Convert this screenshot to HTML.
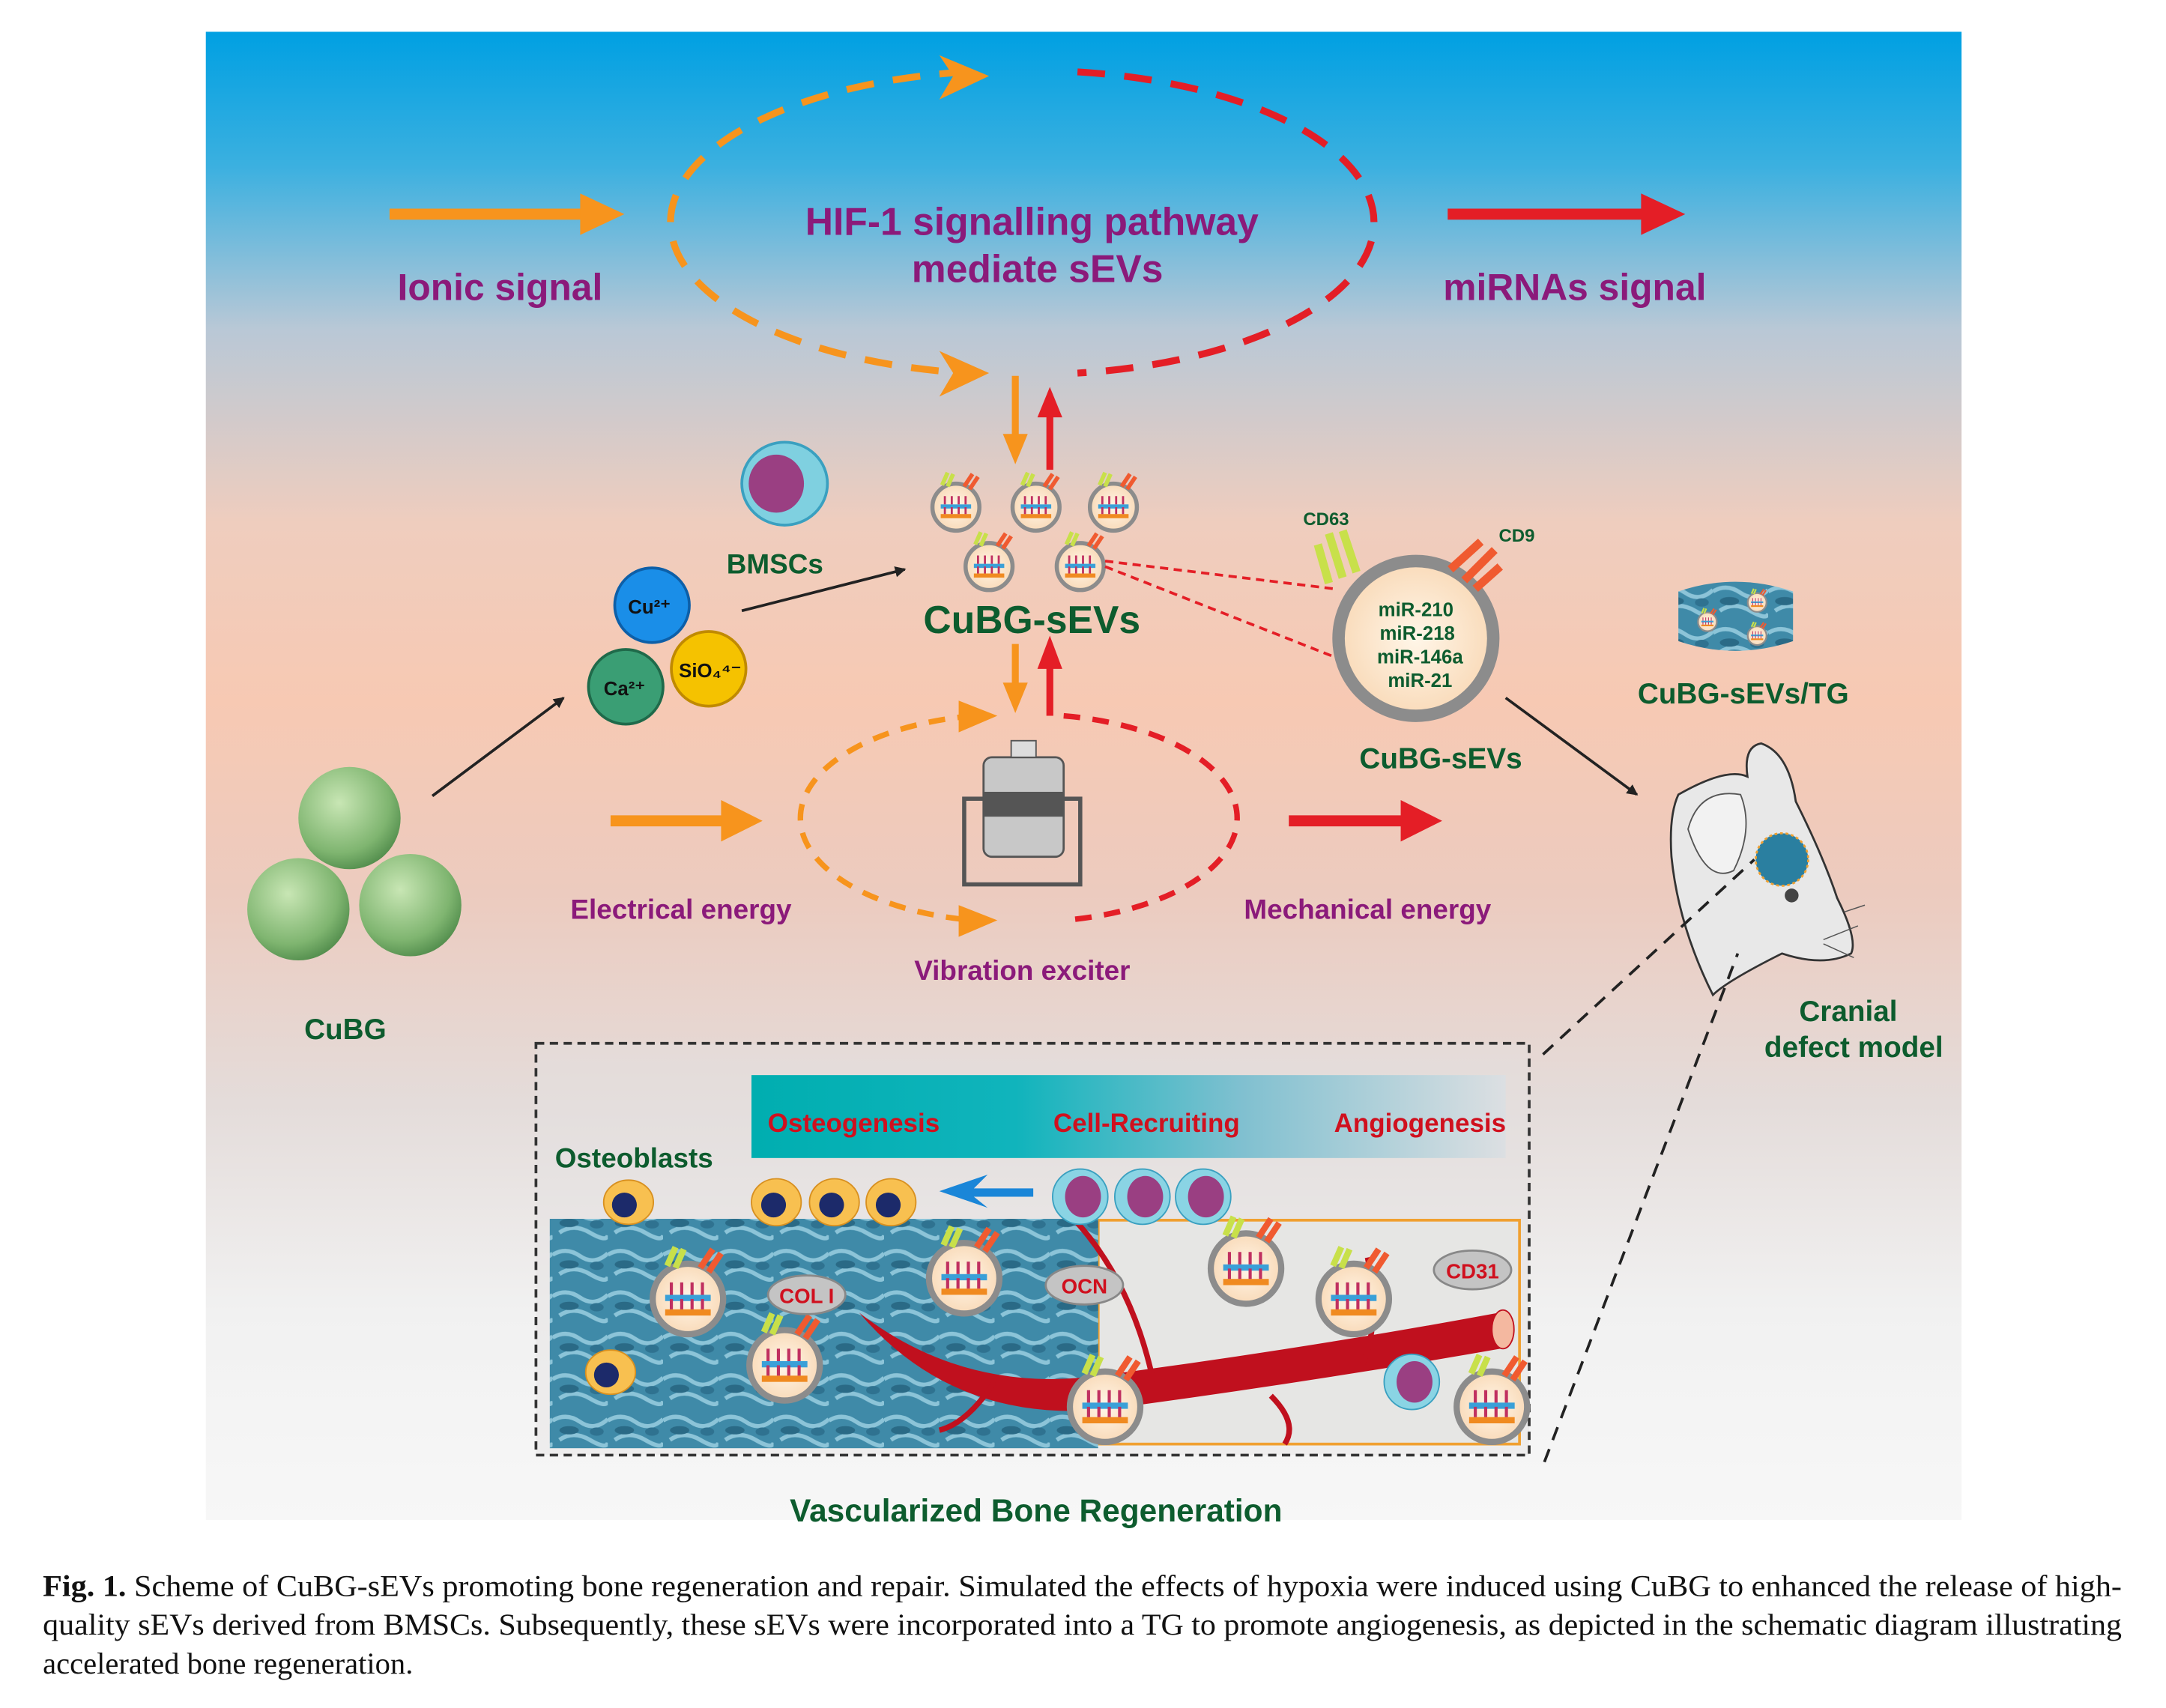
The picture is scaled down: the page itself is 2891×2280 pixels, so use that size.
<!DOCTYPE html>
<html><head><meta charset="utf-8"><style>
html,body{margin:0;padding:0;background:#fff;}
svg{display:block;}
.t{font-family:"Liberation Sans",sans-serif;font-weight:bold;}
</style></head><body>
<svg width="2891" height="2280" viewBox="0 0 1568 1236" preserveAspectRatio="none" xmlns="http://www.w3.org/2000/svg">
<defs>
<linearGradient id="bg" x1="0" y1="0" x2="0" y2="1">
<stop offset="0" stop-color="#00a0e2"/>
<stop offset="0.09" stop-color="#3bb0e0"/>
<stop offset="0.2" stop-color="#b9c8d6"/>
<stop offset="0.33" stop-color="#efcdbe"/>
<stop offset="0.45" stop-color="#f7c9b3"/>
<stop offset="0.58" stop-color="#eccbbf"/>
<stop offset="0.72" stop-color="#e4dcda"/>
<stop offset="0.86" stop-color="#f1f1f1"/>
<stop offset="1" stop-color="#f7f7f7"/>
</linearGradient>
<linearGradient id="bar" x1="0" y1="0" x2="1" y2="0">
<stop offset="0" stop-color="#00aeb0"/>
<stop offset="0.35" stop-color="#10b4bc"/>
<stop offset="0.65" stop-color="#80c0d0"/>
<stop offset="1" stop-color="#dcdfe2"/>
</linearGradient>
<radialGradient id="green" cx="0.4" cy="0.35" r="0.7">
<stop offset="0" stop-color="#c8e6b4"/><stop offset="0.7" stop-color="#7fb570"/><stop offset="1" stop-color="#4f8a4a"/>
</radialGradient>
<radialGradient id="cream" cx="0.5" cy="0.5" r="0.6">
<stop offset="0" stop-color="#fff6e8"/><stop offset="1" stop-color="#f8d5b0"/>
</radialGradient>
<pattern id="bone" width="40" height="30" patternUnits="userSpaceOnUse">
<rect width="40" height="30" fill="#3f8aa8"/>
<path d="M0 8 Q10 2 20 9 T40 7 M5 22 Q15 15 27 22 T40 24" stroke="#8cc4d8" stroke-width="3" fill="none"/>
<ellipse cx="12" cy="15" rx="7" ry="3" fill="#2a6a86"/>
<ellipse cx="32" cy="16" rx="5" ry="3" fill="#2f7290"/>
</pattern>
<marker id="ak" markerWidth="8" markerHeight="8" refX="7" refY="4" orient="auto" markerUnits="userSpaceOnUse"><path d="M0,0 L8,4 L0,8 Z" fill="#222"/></marker>
<g id="sev">
<circle r="17" fill="url(#cream)" stroke="#8c8c8c" stroke-width="3"/>
<rect x="-11" y="-2" width="22" height="3" fill="#3aa0d8"/>
<rect x="-11" y="5" width="22" height="3" fill="#f08a20"/>
<path d="M-8 -2v-6M-3 -2v-6M2 -2v-6M7 -2v-6M-8 5v-5M-3 5v-5M2 5v-5M7 5v-5" stroke="#c03060" stroke-width="1.5"/>
<path d="M-10 -16 l4 -9 M-6 -15 l4 -9" stroke="#c8e04a" stroke-width="3"/>
<path d="M6 -15 l6 -9 M10 -13 l6 -9" stroke="#f05a30" stroke-width="3"/>
</g>
</defs>

<rect x="149" y="23" width="1271" height="1077" fill="url(#bg)"/>

<path d="M700 52 A248 110 0 0 0 700 270" fill="none" stroke="#f7941d" stroke-width="5" stroke-dasharray="20 14"/>
<path d="M780 52 A248 110 0 0 1 780 270" fill="none" stroke="#e41e26" stroke-width="5" stroke-dasharray="20 14"/>
<path d="M680 40 L716 55 L680 72 L690 55Z" fill="#f7941d"/>
<path d="M680 254 L716 270 L680 287 L690 270Z" fill="#f7941d"/>
<text class="t" x="747" y="170" font-size="28" fill="#8b1a7a" text-anchor="middle">HIF-1 signalling pathway</text>
<text class="t" x="751" y="204" font-size="28" fill="#8b1a7a" text-anchor="middle">mediate sEVs</text>
<line x1="282" y1="155" x2="428" y2="155" stroke="#f7941d" stroke-width="8"/>
<path d="M420 140 L452 155 L420 170Z" fill="#f7941d"/>
<line x1="1048" y1="155" x2="1196" y2="155" stroke="#e41e26" stroke-width="8"/>
<path d="M1188 140 L1220 155 L1188 170Z" fill="#e41e26"/>
<text class="t" x="362" y="217" font-size="27" fill="#8b1a7a" text-anchor="middle">Ionic signal</text>
<text class="t" x="1140" y="217" font-size="27" fill="#8b1a7a" text-anchor="middle">miRNAs signal</text>

<line x1="735" y1="272" x2="735" y2="318" stroke="#f7941d" stroke-width="5"/><path d="M726 314 L735 336 L744 314Z" fill="#f7941d"/>
<line x1="760" y1="340" x2="760" y2="298" stroke="#e41e26" stroke-width="5"/><path d="M751 302 L760 280 L769 302Z" fill="#e41e26"/>
<line x1="735" y1="466" x2="735" y2="498" stroke="#f7941d" stroke-width="5"/><path d="M726 494 L735 516 L744 494Z" fill="#f7941d"/>
<line x1="760" y1="518" x2="760" y2="480" stroke="#e41e26" stroke-width="5"/><path d="M751 484 L760 460 L769 484Z" fill="#e41e26"/>

<use href="#sev" x="692" y="367"/><use href="#sev" x="750" y="367"/><use href="#sev" x="806" y="367"/>
<use href="#sev" x="716" y="410"/><use href="#sev" x="782" y="410"/>
<text class="t" x="747" y="458" font-size="28" fill="#0d5c2e" text-anchor="middle">CuBG-sEVs</text>

<ellipse cx="568" cy="350" rx="31" ry="30" fill="#7fd0e0" stroke="#3aa0c0" stroke-width="2"/>
<ellipse cx="562" cy="350" rx="20" ry="21" fill="#9a3f82"/>
<text class="t" x="561" y="415" font-size="20" fill="#0d5c2e" text-anchor="middle">BMSCs</text>
<line x1="537" y1="442" x2="655" y2="412" stroke="#222" stroke-width="2" marker-end="url(#ak)"/>

<circle cx="472" cy="438" r="27" fill="#1a8ee8" stroke="#0d5fa8" stroke-width="2"/>
<circle cx="453" cy="497" r="27" fill="#3a9e74" stroke="#1f6a4a" stroke-width="2"/>
<circle cx="513" cy="484" r="27" fill="#f5c200" stroke="#c08a00" stroke-width="2"/>
<text class="t" x="470" y="444" font-size="14" fill="#111" text-anchor="middle">Cu²⁺</text>
<text class="t" x="452" y="503" font-size="14" fill="#111" text-anchor="middle">Ca²⁺</text>
<text class="t" x="514" y="490" font-size="14" fill="#111" text-anchor="middle">SiO₄⁴⁻</text>
<line x1="313" y1="576" x2="408" y2="505" stroke="#222" stroke-width="2" marker-end="url(#ak)"/>

<circle cx="253" cy="592" r="37" fill="url(#green)"/>
<circle cx="216" cy="658" r="37" fill="url(#green)"/>
<circle cx="297" cy="655" r="37" fill="url(#green)"/>
<text class="t" x="250" y="752" font-size="21" fill="#0d5c2e" text-anchor="middle">CuBG</text>

<line x1="800" y1="406" x2="965" y2="426" stroke="#e41e26" stroke-width="2" stroke-dasharray="6 4"/>
<line x1="800" y1="410" x2="965" y2="475" stroke="#e41e26" stroke-width="2" stroke-dasharray="6 4"/>
<circle cx="1025" cy="462" r="56" fill="url(#cream)" stroke="#8c8c8c" stroke-width="9"/>
<path d="M962 422 l-8 -28 M972 418 l-10 -32 M982 414 l-10 -30" stroke="#c8e04a" stroke-width="6"/>
<path d="M1050 412 l22 -20 M1060 420 l22 -22 M1068 426 l18 -16" stroke="#f05a30" stroke-width="6"/>
<text class="t" x="960" y="380" font-size="13" fill="#0d5c2e" text-anchor="middle">CD63</text>
<text class="t" x="1098" y="392" font-size="13" fill="#0d5c2e" text-anchor="middle">CD9</text>
<g class="t" font-size="14" fill="#0d5c2e" text-anchor="middle">
<text x="1025" y="446">miR-210</text><text x="1026" y="463">miR-218</text><text x="1028" y="480">miR-146a</text><text x="1028" y="497">miR-21</text>
</g>
<text class="t" x="1043" y="556" font-size="21" fill="#0d5c2e" text-anchor="middle">CuBG-sEVs</text>
<line x1="1090" y1="505" x2="1185" y2="575" stroke="#222" stroke-width="2" marker-end="url(#ak)"/>

<path d="M1215 428 Q1256 414 1298 428 L1298 464 Q1256 478 1215 464Z" fill="url(#bone)"/>
<use href="#sev" x="1236" y="450" transform="translate(1236 450) scale(0.4) translate(-1236 -450)"/>
<use href="#sev" x="1272" y="436" transform="translate(1272 436) scale(0.4) translate(-1272 -436)"/>
<use href="#sev" x="1272" y="460" transform="translate(1272 460) scale(0.4) translate(-1272 -460)"/>
<text class="t" x="1262" y="509" font-size="21" fill="#0d5c2e" text-anchor="middle">CuBG-sEVs/TG</text>

<path d="M1215 575 Q1250 555 1265 562 Q1262 540 1275 538 Q1295 545 1300 580 Q1320 620 1330 650 Q1345 680 1340 690 Q1320 700 1290 690 Q1250 710 1240 720 Q1215 670 1210 620 Q1208 590 1215 575Z" fill="#e8e8e8" stroke="#333" stroke-width="1.5"/>
<path d="M1222 600 Q1230 570 1260 575 Q1270 600 1255 630 Q1235 640 1222 600Z" fill="#f2f2f2" stroke="#555" stroke-width="1"/>
<circle cx="1290" cy="622" r="19" fill="#2a7fa0" stroke="#f0a030" stroke-width="1.5" stroke-dasharray="2 2"/>
<circle cx="1297" cy="648" r="5" fill="#444"/>
<path d="M1320 680 l25 -10 M1320 683 l22 10 M1335 660 l15 -5" stroke="#555" stroke-width="0.8"/>
<text class="t" x="1338" y="739" font-size="21" fill="#0d5c2e" text-anchor="middle">Cranial</text>
<text class="t" x="1342" y="765" font-size="21" fill="#0d5c2e" text-anchor="middle">defect model</text>

<path d="M705 518 A150 75 0 0 0 705 666" fill="none" stroke="#f7941d" stroke-width="4" stroke-dasharray="12 9"/>
<path d="M770 518 A150 75 0 0 1 770 666" fill="none" stroke="#e41e26" stroke-width="4" stroke-dasharray="12 9"/>
<path d="M694 507 L722 518 L694 530Z" fill="#f7941d"/>
<path d="M694 655 L722 666 L694 678Z" fill="#f7941d"/>
<rect x="698" y="578" width="84" height="62" fill="none" stroke="#555" stroke-width="3"/>
<rect x="712" y="548" width="58" height="72" rx="6" fill="#c8c8c8" stroke="#555" stroke-width="1.5"/>
<rect x="712" y="573" width="58" height="18" fill="#555"/>
<rect x="732" y="536" width="18" height="12" fill="#ddd" stroke="#555"/>
<line x1="442" y1="594" x2="528" y2="594" stroke="#f7941d" stroke-width="8"/><path d="M522 579 L552 594 L522 609Z" fill="#f7941d"/>
<line x1="933" y1="594" x2="1020" y2="594" stroke="#e41e26" stroke-width="8"/><path d="M1014 579 L1044 594 L1014 609Z" fill="#e41e26"/>
<text class="t" x="493" y="665" font-size="20" fill="#8b1a7a" text-anchor="middle">Electrical energy</text>
<text class="t" x="990" y="665" font-size="20" fill="#8b1a7a" text-anchor="middle">Mechanical energy</text>
<text class="t" x="740" y="709" font-size="20" fill="#8b1a7a" text-anchor="middle">Vibration exciter</text>

<line x1="1117" y1="763" x2="1270" y2="622" stroke="#222" stroke-width="2" stroke-dasharray="10 7"/>
<line x1="1118" y1="1058" x2="1258" y2="690" stroke="#222" stroke-width="2" stroke-dasharray="10 7"/>

<rect x="388" y="755" width="719" height="298" fill="#e4e2e2" fill-opacity="0.4" stroke="#333" stroke-width="2" stroke-dasharray="6 4"/>
<rect x="544" y="778" width="546" height="60" fill="url(#bar)"/>
<g class="t" font-size="19" fill="#d0101e" text-anchor="middle">
<text x="618" y="819">Osteogenesis</text><text x="830" y="819">Cell-Recruiting</text><text x="1028" y="819">Angiogenesis</text>
</g>
<text class="t" x="459" y="845" font-size="20" fill="#0d5c2e" text-anchor="middle">Osteoblasts</text>
<rect x="795" y="883" width="305" height="162" fill="#e6e6e4" stroke="#f0a030" stroke-width="2"/>
<rect x="398" y="882" width="397" height="166" fill="url(#bone)"/>
<path d="M622 950 Q700 1010 800 995 Q950 975 1085 950 L1092 975 Q950 1000 800 1020 Q690 1030 622 950Z" fill="#c0101e"/>
<ellipse cx="1088" cy="962" rx="8" ry="14" fill="#f4b8a0" stroke="#c0101e"/>
<path d="M780 885 Q820 930 835 1000 M990 910 Q1000 960 985 990 M720 1000 Q700 1030 680 1035 M920 1010 Q940 1030 930 1045" stroke="#c0101e" stroke-width="4" fill="none"/>
<g fill="#f8c050" stroke="#d89020">
<ellipse cx="455" cy="870" rx="18" ry="16"/><ellipse cx="562" cy="870" rx="18" ry="17"/><ellipse cx="604" cy="870" rx="18" ry="17"/><ellipse cx="645" cy="870" rx="18" ry="17"/><ellipse cx="442" cy="993" rx="18" ry="16"/>
</g>
<g fill="#1c2a6a"><circle cx="452" cy="872" r="9"/><circle cx="560" cy="872" r="9"/><circle cx="602" cy="872" r="9"/><circle cx="643" cy="872" r="9"/><circle cx="439" cy="995" r="9"/></g>
<path d="M748 860 L705 860 L715 850 L680 862 L715 874 L705 866 L748 866Z" fill="#1a86d8"/>
<g fill="#8ad4e4" stroke="#3aa0c0"><ellipse cx="782" cy="866" rx="20" ry="20"/><ellipse cx="827" cy="866" rx="20" ry="20"/><ellipse cx="871" cy="866" rx="20" ry="20"/><ellipse cx="1022" cy="1000" rx="20" ry="20"/></g>
<g fill="#9a3f82"><ellipse cx="784" cy="866" rx="13" ry="15"/><ellipse cx="829" cy="866" rx="13" ry="15"/><ellipse cx="873" cy="866" rx="13" ry="15"/><ellipse cx="1024" cy="1000" rx="13" ry="15"/></g>
<g transform="translate(498 940) scale(1.5)"><use href="#sev"/></g>
<g transform="translate(568 988) scale(1.5)"><use href="#sev"/></g>
<g transform="translate(698 925) scale(1.5)"><use href="#sev"/></g>
<g transform="translate(800 1018) scale(1.5)"><use href="#sev"/></g>
<g transform="translate(902 918) scale(1.5)"><use href="#sev"/></g>
<g transform="translate(980 940) scale(1.5)"><use href="#sev"/></g>
<g transform="translate(1080 1018) scale(1.5)"><use href="#sev"/></g>
<g fill="#c4c4c4" stroke="#888" stroke-width="1.5">
<ellipse cx="584" cy="937" rx="28" ry="14"/><ellipse cx="785" cy="930" rx="28" ry="14"/><ellipse cx="1066" cy="919" rx="28" ry="14"/>
</g>
<g class="t" font-size="15" fill="#d0101e" text-anchor="middle">
<text x="584" y="943">COL I</text><text x="785" y="936">OCN</text><text x="1066" y="925">CD31</text>
</g>

<text class="t" x="750" y="1101" font-size="23" fill="#0d5c2e" text-anchor="middle">Vascularized Bone Regeneration</text>

<g font-family="'Liberation Serif',serif" font-size="22" fill="#111">
<text x="31" y="1155" textLength="1505" lengthAdjust="spacingAndGlyphs"><tspan font-weight="bold">Fig. 1.</tspan> Scheme of CuBG-sEVs promoting bone regeneration and repair. Simulated the effects of hypoxia were induced using CuBG to enhanced the release of high-</text>
<text x="31" y="1183" textLength="1505" lengthAdjust="spacingAndGlyphs">quality sEVs derived from BMSCs. Subsequently, these sEVs were incorporated into a TG to promote angiogenesis, as depicted in the schematic diagram illustrating</text>
<text x="31" y="1211">accelerated bone regeneration.</text>
</g>
</svg>
</body></html>
